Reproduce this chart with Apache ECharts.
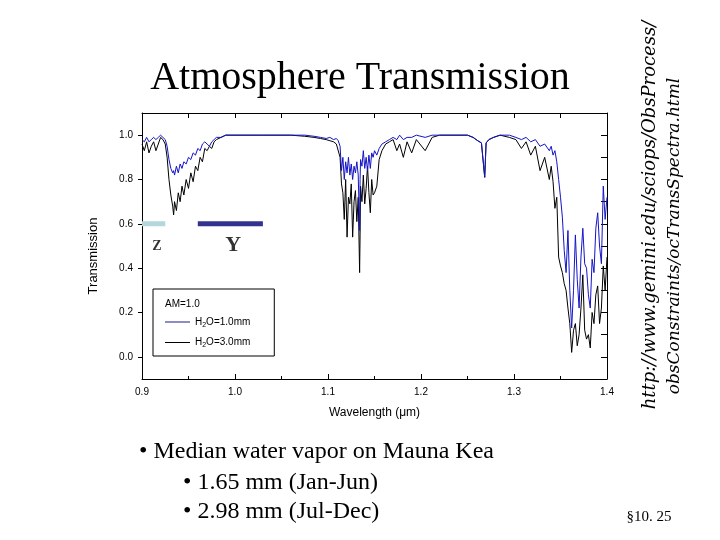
<!DOCTYPE html>
<html>
<head>
<meta charset="utf-8">
<title>Atmosphere Transmission</title>
<script src="https://cdn.jsdelivr.net/npm/echarts@6/dist/echarts.min.js"></script>
<style>
  html, body { margin: 0; padding: 0; background: #fff; }
  #chart { width: 720px; height: 540px; }
</style>
</head>
<body>
<div id="chart"></div>
<script>
// wavelength in microns
const wavelength = [
  0.900, 0.9025, 0.905, 0.9075, 0.910, 0.9125, 0.915, 0.9175, 0.920, 0.9225,
  0.925, 0.927, 0.929, 0.931, 0.933, 0.934, 0.935, 0.937, 0.939, 0.941,
  0.943, 0.945, 0.9475, 0.950, 0.9525, 0.955, 0.9575, 0.960, 0.9625, 0.965,
  0.9675, 0.970, 0.9725, 0.975, 0.9775, 0.980, 0.985, 0.990, 1.000, 1.030,
  1.060, 1.075, 1.085, 1.092, 1.098, 1.102, 1.106, 1.109, 1.111, 1.113,
  1.1145, 1.116, 1.1175, 1.119, 1.1205, 1.122, 1.1235, 1.125, 1.1265, 1.128,
  1.1295, 1.131, 1.1325, 1.134, 1.1345, 1.135, 1.1365, 1.138, 1.1395, 1.141,
  1.1425, 1.144, 1.1455, 1.147, 1.1485, 1.150, 1.1525, 1.155, 1.158, 1.162,
  1.166, 1.170, 1.174, 1.177, 1.181, 1.185, 1.190, 1.195, 1.2045, 1.212,
  1.220, 1.250, 1.256, 1.261, 1.265, 1.267, 1.2685, 1.270, 1.273, 1.278,
  1.285, 1.295, 1.302, 1.308, 1.313, 1.318, 1.323, 1.328, 1.333, 1.338,
  1.340, 1.342, 1.344, 1.346, 1.348, 1.350, 1.352, 1.354, 1.356, 1.358,
  1.360, 1.362, 1.364, 1.366, 1.368, 1.370, 1.372, 1.374, 1.376, 1.378,
  1.380, 1.382, 1.384, 1.386, 1.388, 1.390, 1.392, 1.394, 1.396, 1.398, 1.400
];

// H2O = 1.0 mm (blue)
const trans1mm = [
  0.98, 0.97, 0.99, 0.97, 0.98, 0.99, 0.98, 0.99, 1.00, 0.99,
  0.98, 0.95, 0.89, 0.85, 0.83, 0.84, 0.82, 0.86, 0.83, 0.87,
  0.85, 0.88, 0.87, 0.90, 0.89, 0.92, 0.91, 0.94, 0.93, 0.96,
  0.97, 0.96, 0.95, 0.97, 0.98, 0.99, 0.99, 1.00, 1.00, 1.00,
  1.00, 1.00, 0.995, 0.99, 0.985, 0.99, 0.98, 0.985, 0.975, 0.95,
  0.84, 0.90, 0.80, 0.88, 0.83, 0.90, 0.82, 0.87, 0.80, 0.86,
  0.83, 0.88, 0.82, 0.57, 0.80, 0.89, 0.86, 0.93, 0.85, 0.90,
  0.84, 0.91, 0.85, 0.92, 0.90, 0.93, 0.91, 0.94, 0.96, 0.97,
  0.98, 0.99, 0.98, 1.00, 0.98, 0.99, 0.99, 1.00, 0.99, 1.00,
  1.00, 1.00, 0.99, 0.975, 0.965, 0.96, 0.81, 0.965, 0.98, 0.99,
  1.00, 1.00, 0.99, 0.98, 0.99, 0.97, 0.98, 0.95, 0.96, 0.93,
  0.95, 0.91, 0.93, 0.88, 0.80, 0.72, 0.63, 0.48, 0.38, 0.57,
  0.30, 0.13, 0.30, 0.55, 0.35, 0.22, 0.45, 0.58, 0.42, 0.40,
  0.28, 0.22, 0.44, 0.38, 0.58, 0.65, 0.50, 0.42, 0.77, 0.62, 0.72
];

// H2O = 3.0 mm (black)
const trans3mm = [
  0.96, 0.93, 0.97, 0.92, 0.95, 0.97, 0.93, 0.96, 0.99, 0.98,
  0.96, 0.90, 0.80, 0.73, 0.68, 0.64, 0.70, 0.66, 0.74, 0.70,
  0.77, 0.73, 0.80, 0.76, 0.83, 0.79, 0.86, 0.84, 0.90, 0.88,
  0.94, 0.93, 0.95, 0.94, 0.97, 0.98, 0.99, 1.00, 1.00, 1.00,
  1.00, 0.995, 0.99, 0.985, 0.98, 0.975, 0.97, 0.96, 0.965, 0.90,
  0.78, 0.74, 0.62, 0.80, 0.54, 0.72, 0.69, 0.78, 0.54, 0.70,
  0.75, 0.61, 0.72, 0.38, 0.55, 0.77, 0.70, 0.82, 0.69, 0.76,
  0.86, 0.74, 0.65, 0.80, 0.73, 0.74, 0.77, 0.89, 0.93, 0.96,
  0.97, 0.98, 0.93, 0.96, 0.90, 0.97, 0.92, 0.98, 0.93, 0.99,
  1.00, 1.00, 0.99, 0.975, 0.965, 0.96, 0.81, 0.965, 0.98, 0.99,
  1.00, 0.99, 0.98, 0.94, 0.97, 0.91, 0.95, 0.84, 0.90, 0.80,
  0.86, 0.79, 0.67, 0.72, 0.45, 0.41, 0.38, 0.33, 0.30, 0.22,
  0.15, 0.02, 0.12, 0.15, 0.05, 0.10, 0.22, 0.37, 0.12, 0.08,
  0.10, 0.04, 0.20, 0.15, 0.28, 0.32, 0.15, 0.22, 0.41, 0.30, 0.45
];

// photometric bands marked on the plot
const zBand = [0.9, 0.925];
const yBand = [0.96, 1.03];
const bandLevel = 0.6;
const bandLabels = [[0.916, 0.50, 'Z'], [0.998, 0.505, 'Y']];

const yLabelValues = [0, 0.2, 0.4, 0.6, 0.8, 1.0];
const yTickValuesRight = [0, 0.1, 0.2, 0.3, 0.4, 0.5, 0.6, 0.7, 0.8, 0.9, 1.0];

const SANS = 'Liberation Sans';
const SERIF = 'Liberation Serif';
const bandLabelSize = { Z: 14, Y: 22 };

const chart = echarts.init(document.getElementById('chart'), null, { renderer: 'canvas' });

const pair = (ys) => wavelength.map((w, i) => [w, ys[i]]);

const option = {
  animation: false,
  backgroundColor: '#fff',
  title: {
    text: 'Atmosphere Transmission',
    left: 'center',
    top: 53,
    textStyle: { fontFamily: SERIF, fontSize: 40, fontWeight: 'normal', color: '#000' }
  },
  grid: { left: 142, right: 113, top: 113, bottom: 161 },
  legend: {
    orient: 'vertical',
    left: 153,
    top: 289,
    padding: [28, 24, 7, 12],
    itemGap: 9,
    itemWidth: 25,
    itemHeight: 1,
    icon: 'rect',
    borderColor: '#000',
    borderWidth: 1,
    data: ['H2O=1.0mm', 'H2O=3.0mm'],
    formatter: function (name) {
      return '{t|H}{s|2}{t|' + name.slice(2) + '}';
    },
    textStyle: {
      rich: {
        t: { fontFamily: SANS, fontSize: 10, color: '#000' },
        s: { fontFamily: SANS, fontSize: 7, color: '#000', padding: [6, 0, 0, 0] }
      }
    }
  },
  xAxis: [
    {
      type: 'value', position: 'bottom', min: 0.9, max: 1.4, interval: 0.1,
      name: 'Wavelength (\u03bcm)', nameLocation: 'middle', nameGap: 28,
      nameTextStyle: { fontFamily: SANS, fontSize: 12, color: '#000' },
      axisLine: { onZero: false, lineStyle: { color: '#000', width: 1 } },
      axisTick: { inside: true, length: 5, lineStyle: { color: '#000' } },
      minorTick: { show: true, splitNumber: 2, length: 3, lineStyle: { color: '#000' } },
      splitLine: { show: false },
      axisLabel: {
        margin: 8, fontFamily: SANS, fontSize: 10, color: '#000',
        formatter: (v) => v.toFixed(1)
      }
    },
    {
      type: 'value', position: 'top', min: 0.9, max: 1.4, interval: 0.05,
      axisLine: { onZero: false, lineStyle: { color: '#000', width: 1 } },
      axisTick: { inside: true, length: 5, lineStyle: { color: '#000' } },
      splitLine: { show: false },
      axisLabel: { show: false }
    }
  ],
  yAxis: [
    {
      type: 'value', position: 'left', min: -0.1, max: 1.1, interval: 0.1,
      name: 'Transmission', nameLocation: 'middle', nameGap: 42,
      nameTextStyle: { fontFamily: SANS, fontSize: 13, color: '#000', padding: [0, 20, 0, 0] },
      axisLine: { show: true, onZero: false, lineStyle: { color: '#000', width: 1 } },
      axisTick: { show: true, length: 4, customValues: yLabelValues, lineStyle: { color: '#000' } },
      splitLine: { show: false },
      axisLabel: {
        margin: 9, fontFamily: SANS, fontSize: 10, color: '#000',
        customValues: yLabelValues,
        formatter: (v) => v.toFixed(1)
      }
    },
    {
      type: 'value', position: 'right', min: -0.1, max: 1.1, interval: 0.1,
      axisLine: { show: true, onZero: false, lineStyle: { color: '#000', width: 1 } },
      axisTick: { show: true, inside: true, length: 6, customValues: yTickValuesRight, lineStyle: { color: '#000' } },
      splitLine: { show: false },
      axisLabel: { show: false }
    }
  ],
  series: [
    {
      name: 'H2O=3.0mm', type: 'line', xAxisIndex: 0, yAxisIndex: 0,
      data: pair(trans3mm), symbol: 'none', z: 3,
      lineStyle: { color: '#000', width: 1 }, itemStyle: { color: '#000' }
    },
    {
      name: 'H2O=1.0mm', type: 'line', xAxisIndex: 0, yAxisIndex: 0,
      data: pair(trans1mm), symbol: 'none', z: 4,
      lineStyle: { color: '#1414c8', width: 1 }, itemStyle: { color: '#1a1a8c' }
    },
    {
      name: 'Z band', type: 'line', silent: true, symbol: 'none', z: 2,
      data: zBand.map((w) => [w, bandLevel]),
      lineStyle: { color: '#b3d7dc', width: 5 }
    },
    {
      name: 'Y band', type: 'line', silent: true, symbol: 'none', z: 2,
      data: yBand.map((w) => [w, bandLevel]),
      lineStyle: { color: '#33338f', width: 5 }
    },
    {
      name: 'band labels', type: 'scatter', silent: true, symbolSize: 0,
      data: bandLabels.map((d) => ({
        value: d,
        label: { fontSize: bandLabelSize[d[2]] }
      })),
      label: {
        show: true, position: 'inside',
        formatter: (p) => p.value[2],
        fontFamily: SERIF, fontWeight: 'bold', color: '#000'
      }
    }
  ],
  graphic: [
    { type: 'text', left: 165, top: 299,
      style: { text: 'AM=1.0', fontFamily: SANS, fontSize: 10, fill: '#000' } },
    { type: 'text', x: 650, y: 215, rotation: Math.PI / 2,
      style: { text: 'http://www.gemini.edu/sciops/ObsProcess/', fontFamily: 'DejaVu Serif',
        fontStyle: 'italic', fontSize: 18, fill: '#000', align: 'center', verticalAlign: 'middle' } },
    { type: 'text', x: 675, y: 236, rotation: Math.PI / 2,
      style: { text: 'obsConstraints/ocTransSpectra.html', fontFamily: 'DejaVu Serif',
        fontStyle: 'italic', fontSize: 17, fill: '#000', align: 'center', verticalAlign: 'middle' } },
    { type: 'text', x: 139, y: 452,
      style: { text: '\u2022 Median water vapor on Mauna Kea', fontFamily: SERIF, fontSize: 24,
        fill: '#000', verticalAlign: 'middle' } },
    { type: 'text', x: 183, y: 483,
      style: { text: '\u2022 1.65 mm (Jan-Jun)', fontFamily: SERIF, fontSize: 24,
        fill: '#000', verticalAlign: 'middle' } },
    { type: 'text', x: 183, y: 512,
      style: { text: '\u2022 2.98 mm (Jul-Dec)', fontFamily: SERIF, fontSize: 24,
        fill: '#000', verticalAlign: 'middle' } },
    { type: 'text', x: 649, y: 517,
      style: { text: '\u00a710. 25', fontFamily: SERIF, fontSize: 15,
        fill: '#000', align: 'center', verticalAlign: 'middle' } }
  ]
};

chart.setOption(option);
</script>
</body>
</html>
